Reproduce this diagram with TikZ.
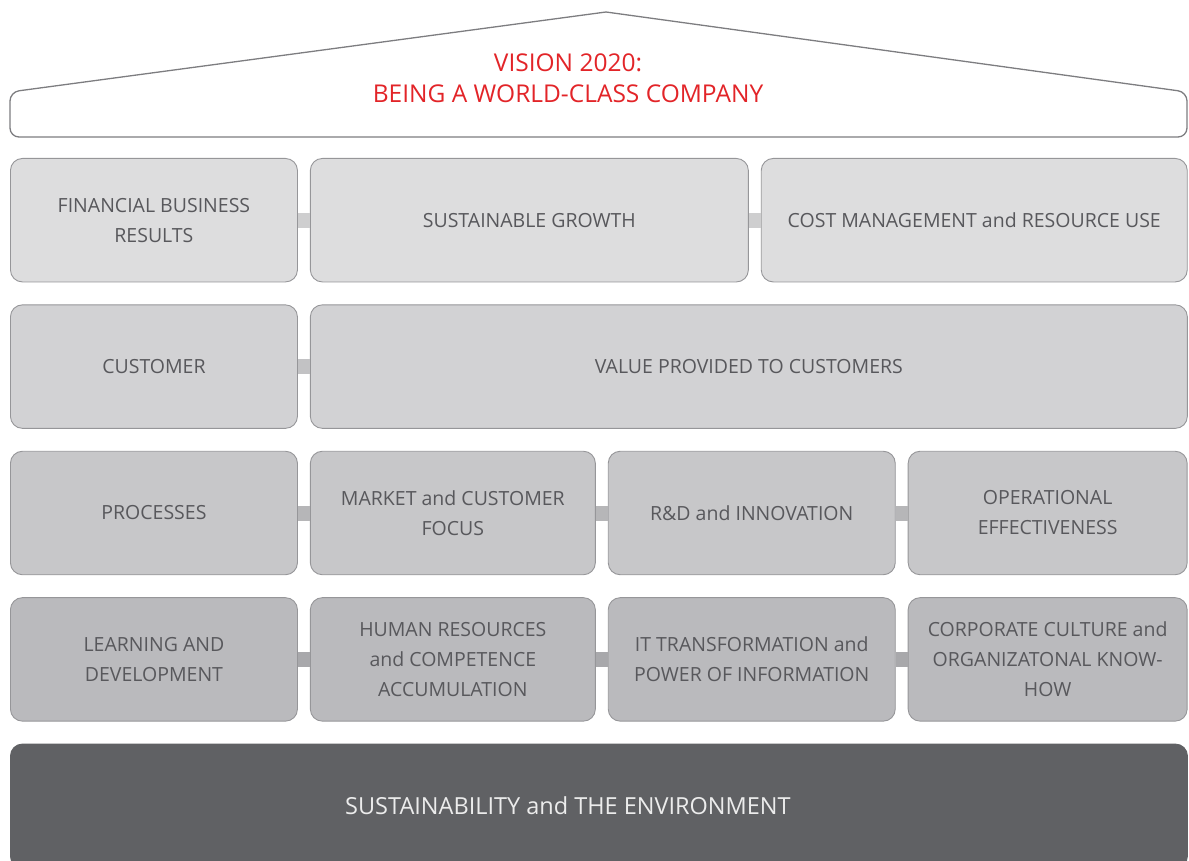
\documentclass[tikz,border=0pt]{standalone}
\usepackage{fontspec}
\setmainfont{Open Sans}
\usetikzlibrary{positioning}
\definecolor{txt}{RGB}{88,88,92}
\definecolor{visred}{RGB}{226,36,40}
\definecolor{edge}{RGB}{150,150,153}
\definecolor{roofline}{RGB}{125,125,128}
\definecolor{row1}{RGB}{221,221,222}
\definecolor{row2}{RGB}{210,210,212}
\definecolor{row3}{RGB}{199,199,201}
\definecolor{row4}{RGB}{186,186,189}
\definecolor{base}{RGB}{96,97,100}
\tikzset{
 b/.style
  = {rectangle, draw=edge, line width=0.9pt, rounded corners=12pt, inner sep=0pt,
     minimum height=123.5pt, text=txt, align=center, font=\fontsize{19.5}{30}\selectfont},
 b1/.style = {b, fill=row1},
 b2/.style = {b, fill=row2},
 b3/.style = {b, fill=row3},
 b4/.style = {b, fill=row4},
 bb/.style
  = {b, draw=base, fill=base, text={rgb,255:red,236;green,236;blue,236},
     font=\fontsize{23.5}{30}\selectfont},
 l/.style = {draw, line width=15pt},
}

\begin{document}
\begin{tikzpicture}[x=1pt, y=-1pt, node distance=12pt]
    \useasboundingbox (0,0) rectangle (1189,861);

    % roof
    \draw [roofline, line width=1.3pt, rounded corners=9pt]
      (10,137) -- (10,92) [sharp corners] -- (606,12) [rounded corners=9pt] -- (1187,92) -- (1187,137) -- cycle;
    \node [text=visred, align=center, font=\fontsize{24.5}{30.5}\selectfont] (vision) at (568,78)
      {VISION 2020:\\ BEING A WORLD-CLASS COMPANY};

    % financial
    \node [b1, minimum width=287pt, anchor=north west] (fin) at (10,158) {FINANCIAL BUSINESS\\ RESULTS};
    \node [b1, minimum width=438pt, right = of fin] (growth) {SUSTAINABLE GROWTH};
    \node [b1, minimum width=426pt, right = of growth] (cost) {COST MANAGEMENT and RESOURCE USE};

    % customer
    \node [b2, minimum width=287pt, below = 22pt of fin] (cust) {CUSTOMER};
    \node [b2, minimum width=877pt, right = of cust] (value) {VALUE PROVIDED TO CUSTOMERS};

    % processes
    \node [b3, minimum width=287pt, below = 22pt of cust] (proc) {PROCESSES};
    \node [b3, minimum width=285pt, right = of proc] (market) {MARKET and CUSTOMER\\ FOCUS};
    \node [b3, minimum width=287pt, right = of market] (rnd) {R\&D and INNOVATION};
    \node [b3, minimum width=279pt, right = of rnd] (oper) {OPERATIONAL\\ EFFECTIVENESS};

    % learning
    \node [b4, minimum width=287pt, below = 22pt of proc] (learn) {LEARNING AND\\ DEVELOPMENT};
    \node [b4, minimum width=285pt, right = of learn] (human) {HUMAN RESOURCES\\ and COMPETENCE\\ ACCUMULATION};
    \node [b4, minimum width=287pt, right = of human] (itx) {IT TRANSFORMATION and\\ POWER OF INFORMATION};
    \node [b4, minimum width=279pt, right = of itx] (culture) {CORPORATE CULTURE and\\ ORGANIZATONAL KNOW-\\ HOW};

    % base
    \node [bb, minimum width=1177pt, minimum height=124pt, below = 22pt of learn.south west, anchor=north west] (sust)
      {\hspace*{-62pt}SUSTAINABILITY and THE ENVIRONMENT};

    \path [l, draw={rgb,255:red,206;green,206;blue,207}] (fin) -- (growth);
    \path [l, draw={rgb,255:red,206;green,206;blue,207}] (growth) -- (cost);
    \path [l, draw={rgb,255:red,194;green,194;blue,196}] (cust) -- (value);
    \path [l, draw={rgb,255:red,182;green,182;blue,184}] (proc) -- (market);
    \path [l, draw={rgb,255:red,182;green,182;blue,184}] (market) -- (rnd);
    \path [l, draw={rgb,255:red,182;green,182;blue,184}] (rnd) -- (oper);
    \path [l, draw={rgb,255:red,168;green,168;blue,171}] (learn) -- (human);
    \path [l, draw={rgb,255:red,168;green,168;blue,171}] (human) -- (itx);
    \path [l, draw={rgb,255:red,168;green,168;blue,171}] (itx) -- (culture);
  \end{tikzpicture}
\end{document}
